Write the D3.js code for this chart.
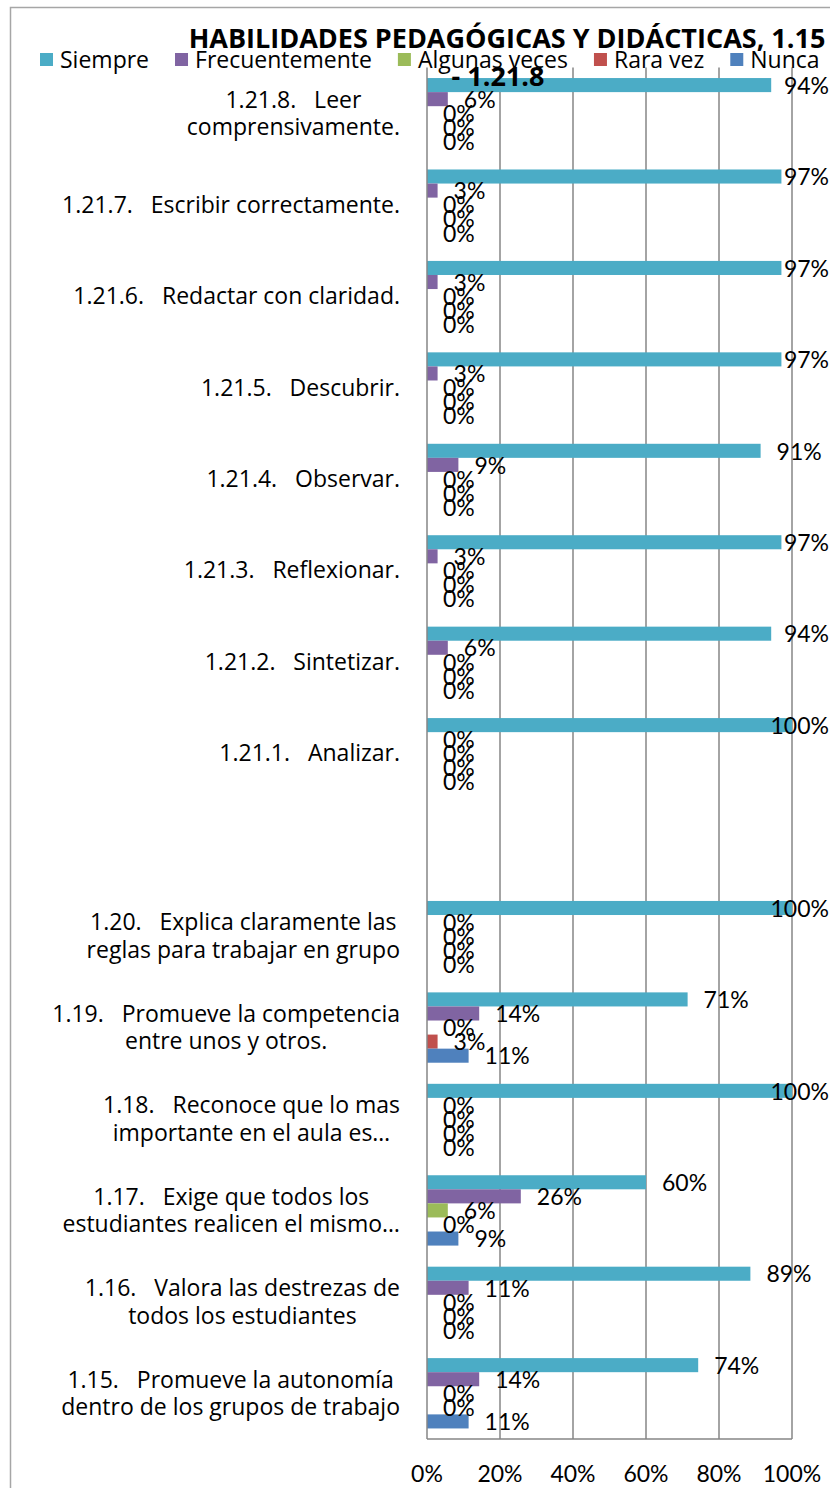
<!DOCTYPE html>
<html>
<head>
<meta charset="utf-8">
<script src="https://cdn.jsdelivr.net/npm/d3@7"></script>
<style>
  body { margin: 0; background: #fff; }
  svg { display: block; font-family: "Open Sans", Lato, sans-serif; }
</style>
</head>
<body>
<div id="chart"></div>
<script>
// categories from top to bottom, each one split in the lines shown
const categories = [
  ["1.21.8.   Leer", "comprensivamente."],
  ["1.21.7.   Escribir correctamente."],
  ["1.21.6.   Redactar con claridad."],
  ["1.21.5.   Descubrir."],
  ["1.21.4.   Observar."],
  ["1.21.3.   Reflexionar."],
  ["1.21.2.   Sintetizar."],
  ["1.21.1.   Analizar."],
  [""],
  ["1.20.   Explica claramente las", "reglas para trabajar en grupo"],
  ["1.19.   Promueve la competencia", "entre unos y otros."],
  ["1.18.   Reconoce que lo mas", "importante en el aula es…"],
  ["1.17.   Exige que todos los", "estudiantes realicen el mismo…"],
  ["1.16.   Valora las destrezas de", "todos los estudiantes"],
  ["1.15.   Promueve la autonomía", "dentro de los grupos de trabajo"],
];

const seriesNames = ["Siempre", "Frecuentemente", "Algunas veces", "Rara vez", "Nunca"];
const seriesColors = ["#4BACC6", "#8064A2", "#9BBB59", "#C0504D", "#4F81BD"];

// percentages, same order as categories (null = empty row)
const siempre        = [94.3, 97.1, 97.1, 97.1, 91.4, 97.1, 94.3, 100, null, 100, 71.4, 100, 60.0, 88.6, 74.3];
const frecuentemente = [5.7, 2.9, 2.9, 2.9, 8.6, 2.9, 5.7, 0, null, 0, 14.3, 0, 25.7, 11.4, 14.3];
const algunasVeces   = [0, 0, 0, 0, 0, 0, 0, 0, null, 0, 0, 0, 5.7, 0, 0];
const raraVez        = [0, 0, 0, 0, 0, 0, 0, 0, null, 0, 2.9, 0, 0, 0, 0];
const nunca          = [0, 0, 0, 0, 0, 0, 0, 0, null, 0, 11.4, 0, 8.6, 0, 11.4];

const xTicks = [0, 20, 40, 60, 80, 100];

const title = ["HABILIDADES PEDAGÓGICAS Y DIDÁCTICAS, 1.15", "- 1.21.8"];

const seriesValues = [siempre, frecuentemente, algunasVeces, raraVez, nunca];

const width = 830;
const height = 1488;
const margin = { top: 67.5, right: 38, bottom: 49, left: 427 };
const numberFont = "Lato, 'Open Sans', sans-serif";

const svg = d3.select("#chart")
  .append("svg")
  .attr("width", width)
  .attr("height", height);

// chart frame
svg.append("rect")
  .attr("x", 10.5).attr("y", 7.5)
  .attr("width", width).attr("height", height)
  .attr("fill", "none")
  .attr("stroke", "#a6a6a6")
  .attr("stroke-width", 1.5);

const x = d3.scaleLinear()
  .domain([0, 100])
  .range([margin.left, width - margin.right]);

const y = d3.scaleBand()
  .domain(d3.range(categories.length))
  .range([margin.top, height - margin.bottom])
  .padding(0);

const ySeries = d3.scaleBand()
  .domain(d3.range(seriesNames.length))
  .range([0, y.bandwidth()])
  .paddingInner(0)
  .paddingOuter(0.75);

// grid lines
svg.append("g")
  .selectAll("line")
  .data(xTicks.slice(1))
  .join("line")
  .attr("x1", (d) => x(d)).attr("x2", (d) => x(d))
  .attr("y1", margin.top).attr("y2", height - margin.bottom)
  .attr("stroke", "#868686")
  .attr("stroke-width", 1.5);

// bars
const rows = [];
categories.forEach((c, i) => {
  seriesValues.forEach((vals, s) => {
    if (vals[i] !== null) rows.push({ cat: i, s, value: vals[i] });
  });
});

svg.append("g")
  .selectAll("rect")
  .data(rows)
  .join("rect")
  .attr("x", x(0))
  .attr("y", (d) => y(d.cat) + ySeries(d.s))
  .attr("width", (d) => x(d.value) - x(0))
  .attr("height", ySeries.bandwidth())
  .attr("fill", (d) => seriesColors[d.s]);

// axis lines
svg.append("line")
  .attr("x1", x(0)).attr("x2", x(0))
  .attr("y1", margin.top).attr("y2", height - margin.bottom)
  .attr("stroke", "#868686").attr("stroke-width", 1.5);
svg.append("line")
  .attr("x1", x(0)).attr("x2", x(100))
  .attr("y1", height - margin.bottom).attr("y2", height - margin.bottom)
  .attr("stroke", "#868686").attr("stroke-width", 1.5);

// x tick labels
const fmt = (v) => Math.round(v) + "%";
svg.append("g")
  .attr("font-family", numberFont)
  .attr("font-size", 23)
  .attr("text-anchor", "middle")
  .selectAll("text")
  .data(xTicks)
  .join("text")
  .attr("x", (d) => x(d))
  .attr("y", 1482)
  .text((d) => d + "%");

// category labels, lines centred on each other and the block right aligned
const catG = svg.append("g").attr("font-size", 23).attr("fill", "#000");
categories.forEach((lines, i) => {
  const g = catG.append("g");
  const t = g.selectAll("text")
    .data(lines)
    .join("text")
    .style("white-space", "pre")
    .attr("text-anchor", "middle")
    .attr("dy", "0.35em")
    .text((d) => d);
  let maxW = 0;
  t.each(function () { maxW = Math.max(maxW, this.getComputedTextLength()); });
  const cy = y(i) + y.bandwidth() / 2;
  const lh = 27.5;
  t.attr("x", 400 - maxW / 2)
    .attr("y", (d, k) => cy + (k - (lines.length - 1) / 2) * lh);
});

// data labels
svg.append("g")
  .attr("font-family", numberFont)
  .attr("font-size", 23)
  .attr("fill", "#000")
  .selectAll("text")
  .data(rows)
  .join("text")
  .attr("y", (d) => y(d.cat) + ySeries(d.s) + ySeries.bandwidth() / 2)
  .attr("dy", "0.38em")
  .text((d) => fmt(d.value))
  .attr("x", function (d) {
    const w = this.getComputedTextLength();
    return Math.min(x(d.value) + 16, 829 - w);
  });

// legend
const legend = svg.append("g").attr("font-size", 23);
let lx = 40;
seriesNames.forEach((name, s) => {
  legend.append("rect")
    .attr("x", lx).attr("y", 53)
    .attr("width", 13).attr("height", 13)
    .attr("fill", seriesColors[s]);
  const t = legend.append("text")
    .attr("x", lx + 20).attr("y", 68)
    .text(name);
  lx += 20 + t.node().getComputedTextLength() + 26;
});

// title
svg.append("g")
  .attr("font-size", 27)
  .attr("font-weight", "bold")
  .attr("text-anchor", "middle")
  .selectAll("text")
  .data(title)
  .join("text")
  .attr("x", (d, i) => (i === 0 ? 507 : 498))
  .attr("y", (d, i) => (i === 0 ? 48 : 86))
  .text((d) => d);
</script>
</body>
</html>
